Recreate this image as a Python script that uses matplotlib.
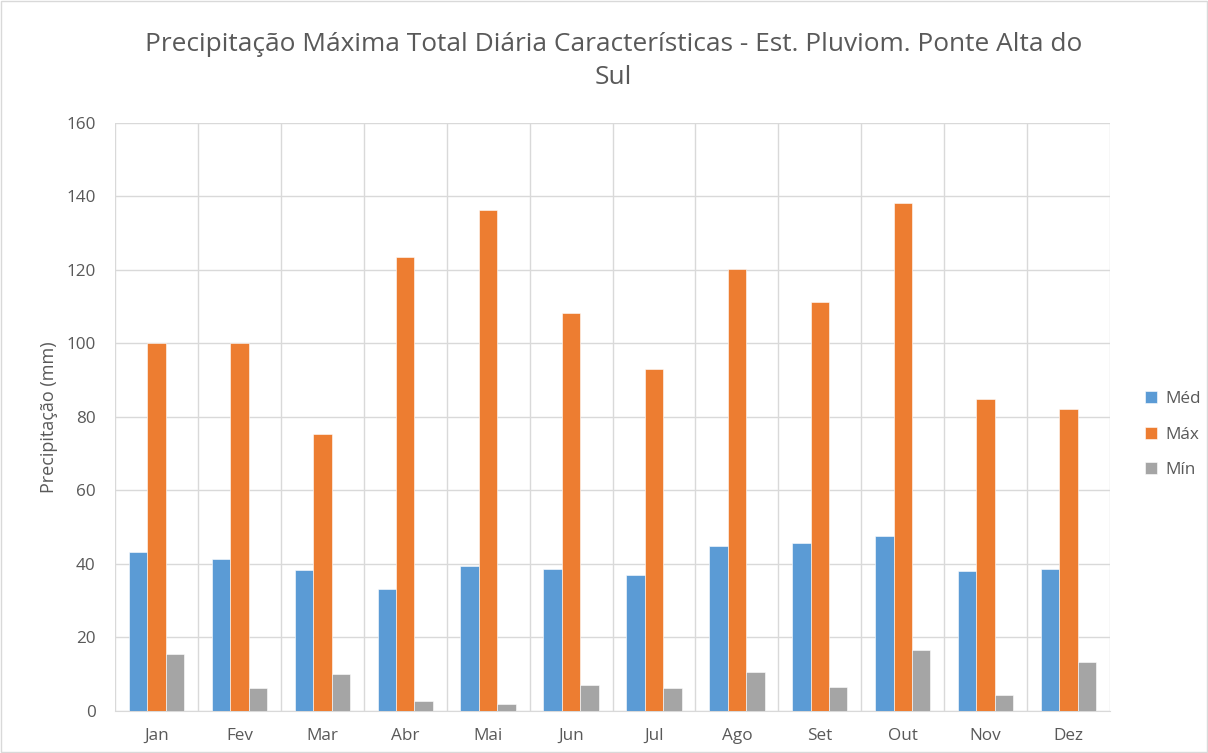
import matplotlib
matplotlib.use("Agg")
import matplotlib.pyplot as plt
import numpy as np
from matplotlib.patches import Rectangle

months = ["Jan", "Fev", "Mar", "Abr", "Mai", "Jun", "Jul", "Ago", "Set", "Out", "Nov", "Dez"]
med = [43.2, 41.3, 38.3, 33.2, 39.5, 38.6, 37.0, 44.8, 45.6, 47.6, 38.0, 38.6]
mx = [100.0, 100.2, 75.4, 123.5, 136.2, 108.3, 93.0, 120.2, 111.2, 138.3, 84.8, 82.1]
mn = [15.4, 6.3, 10.0, 2.8, 1.9, 7.0, 6.3, 10.6, 6.5, 16.6, 4.4, 13.2]
series_names = ["Méd", "Máx", "Mín"]
colors = ["#5B9BD5", "#ED7D31", "#A5A5A5"]
title = "Precipitação Máxima Total Diária Características - Est. Pluviom. Ponte Alta do\nSul"
ylabel = "Precipitação (mm)"

plt.rcParams['font.family'] = ['Open Sans', 'DejaVu Sans']
txt = "#595959"
grid = "#D9D9D9"

fig = plt.figure(figsize=(12.08, 7.53), dpi=100)
fig.patches.append(Rectangle((0.001, 0.001), 0.998, 0.998, transform=fig.transFigure,
                             fill=False, edgecolor="#D9D9D9", linewidth=1))
ax = fig.add_axes([0.0952, 0.0558, 0.8237, 0.7809])

x = np.arange(len(months))
w = 1 / 4.5
for i, (vals, name, c) in enumerate(zip([med, mx, mn], series_names, colors)):
    ax.bar(x + (i - 1) * w, vals, width=w, color=c, label=name, zorder=3,
           edgecolor="white", linewidth=0.4)

ax.set_xlim(-0.5, len(months) - 0.5)
ax.set_ylim(0, 160)
ax.set_yticks(np.arange(0, 161, 20))
ax.set_xticks(x)
ax.set_xticklabels(months)
ax.set_xticks(np.arange(-0.5, len(months), 1), minor=True)
ax.grid(axis='y', color=grid, linewidth=1, zorder=0)
ax.grid(axis='x', which='minor', color=grid, linewidth=1, zorder=0)
ax.tick_params(axis='both', which='both', length=0, colors=txt, labelsize=12.3)
ax.tick_params(axis='y', pad=14)
ax.tick_params(axis='x', pad=12)
for s in ["top", "right", "left"]:
    ax.spines[s].set_visible(False)
ax.spines["bottom"].set_color(grid)
ax.set_ylabel(ylabel, color=txt, fontsize=13, labelpad=6)

fig.text(0.508, 0.957, title, ha="center", va="top", fontsize=18.9, color=txt, linespacing=1.42)

leg = ax.legend(loc="center left", bbox_to_anchor=(1.02, 0.47), frameon=False, fontsize=12.3,
                handlelength=0.7, handleheight=0.7, labelspacing=1.15, handletextpad=0.5)
for t in leg.get_texts():
    t.set_color(txt)

fig.savefig("out.png", dpi=100)
